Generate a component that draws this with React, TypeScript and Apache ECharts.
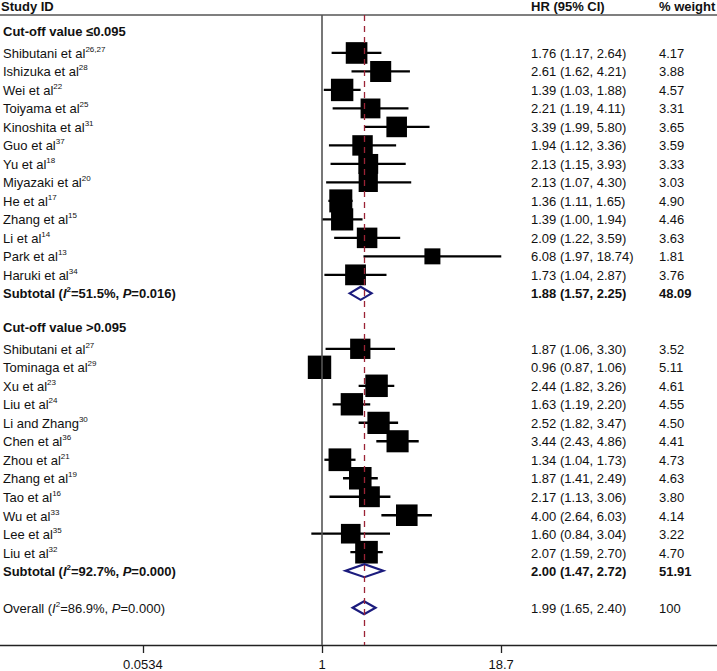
import React, { useEffect, useRef } from "react";
import * as echarts from "echarts";

// ---------- data ----------
const groupTitles = ["Cut-off value \u22640.095", "Cut-off value >0.095"];

const names1 = ["Shibutani et al", "Ishizuka et al", "Wei et al", "Toiyama et al", "Kinoshita et al", "Guo et al", "Yu et al", "Miyazaki et al", "He et al", "Zhang et al", "Li et al", "Park et al", "Haruki et al"];
const refs1 = ["26,27", "28", "22", "25", "31", "37", "18", "20", "17", "15", "14", "13", "34"];
const hr1 = [1.76, 2.61, 1.39, 2.21, 3.39, 1.94, 2.13, 2.13, 1.36, 1.39, 2.09, 6.08, 1.73];
const lo1 = [1.17, 1.62, 1.03, 1.19, 1.99, 1.12, 1.15, 1.07, 1.11, 1.0, 1.22, 1.97, 1.04];
const hi1 = [2.64, 4.21, 1.88, 4.11, 5.8, 3.36, 3.93, 4.3, 1.65, 1.94, 3.59, 18.74, 2.87];
const w1 = [4.17, 3.88, 4.57, 3.31, 3.65, 3.59, 3.33, 3.03, 4.9, 4.46, 3.63, 1.81, 3.76];

const names2 = ["Shibutani et al", "Tominaga et al", "Xu et al", "Liu et al", "Li and Zhang", "Chen et al", "Zhou et al", "Zhang et al", "Tao et al", "Wu et al", "Lee et al", "Liu et al"];
const refs2 = ["27", "29", "23", "24", "30", "36", "21", "19", "16", "33", "35", "32"];
const hr2 = [1.87, 0.96, 2.44, 1.63, 2.52, 3.44, 1.34, 1.87, 2.17, 4.0, 1.6, 2.07];
const lo2 = [1.06, 0.87, 1.82, 1.19, 1.82, 2.43, 1.04, 1.41, 1.13, 2.64, 0.84, 1.59];
const hi2 = [3.3, 1.06, 3.26, 2.2, 3.47, 4.86, 1.73, 2.49, 3.06, 6.03, 3.04, 2.7];
const w2 = [3.52, 5.11, 4.61, 4.55, 4.5, 4.41, 4.73, 4.63, 3.8, 4.14, 3.22, 4.7];

const subHR = [1.88, 2.0];
const subLo = [1.57, 1.47];
const subHi = [2.25, 2.72];
const subW = [48.09, 51.91];
const subI2 = ["51.5%", "92.7%"];
const subP = ["0.016", "0.000"];

const overallHR = 1.99;
const overallLo = 1.65;
const overallHi = 2.4;
const overallW = 100;
const overallI2 = "86.9%";
const overallP = "0.000";

const TICKS = [0.0534, 1, 18.7];
const TICK_LABELS = ["0.0534", "1", "18.7"];

// ---------- layout ----------
const W = 717;
const H = 671;
const ROW0_Y = 34.5;
const ROW_H = 18.52;
const GRID_TOP = 15;
const AXIS_Y = 646;
const PX_PER_LN = 61.17;
const ONE_X = 322;
const X_LN_MIN = -ONE_X / PX_PER_LN;
const X_LN_MAX = (W - ONE_X) / PX_PER_LN;
const FF = "'Liberation Sans', Arial, Helvetica, sans-serif";
const TXT = "#111";

type Row = {
  kind: "head" | "study" | "sub" | "blank" | "overall";
  text?: string;
  ref?: string;
  hr?: number;
  lo?: number;
  hi?: number;
  w?: number;
  i2?: string;
  p?: string;
};

function buildRows(): Row[] {
  const rows: Row[] = [];
  const groups = [
    { names: names1, refs: refs1, hr: hr1, lo: lo1, hi: hi1, w: w1 },
    { names: names2, refs: refs2, hr: hr2, lo: lo2, hi: hi2, w: w2 },
  ];
  groups.forEach((g, gi) => {
    rows.push({ kind: "head", text: groupTitles[gi] });
    g.names.forEach((n, i) => {
      rows.push({ kind: "study", text: n, ref: g.refs[i], hr: g.hr[i], lo: g.lo[i], hi: g.hi[i], w: g.w[i] });
    });
    rows.push({ kind: "sub", hr: subHR[gi], lo: subLo[gi], hi: subHi[gi], w: subW[gi], i2: subI2[gi], p: subP[gi] });
    rows.push({ kind: "blank" });
  });
  rows.push({ kind: "overall", hr: overallHR, lo: overallLo, hi: overallHi, w: overallW, i2: overallI2, p: overallP });
  return rows;
}

const fmtW = (w: number) => (Number.isInteger(w) ? String(w) : w.toFixed(2));
const fmtCI = (r: Row) => `${r.hr!.toFixed(2)} (${r.lo!.toFixed(2)}, ${r.hi!.toFixed(2)})`;

const rich = {
  n: { fontSize: 13, fontFamily: FF, color: TXT, lineHeight: 16 },
  b: { fontSize: 13, fontFamily: FF, color: TXT, fontWeight: "bold", lineHeight: 16 },
  i: { fontSize: 13, fontFamily: FF, color: TXT, fontStyle: "italic", lineHeight: 16 },
  bi: { fontSize: 13, fontFamily: FF, color: TXT, fontWeight: "bold", fontStyle: "italic", lineHeight: 16 },
  s: { fontSize: 8, fontFamily: FF, color: TXT, lineHeight: 11, verticalAlign: "top" },
  bs: { fontSize: 8, fontFamily: FF, color: TXT, fontWeight: "bold", lineHeight: 11, verticalAlign: "top" },
  h: { fontSize: 13, fontFamily: FF, color: TXT, fontWeight: "bold", lineHeight: 16, padding: [0, 0, 6, 0] },
};

export default function App() {
  const ref = useRef<HTMLDivElement>(null);

  useEffect(() => {
    if (!ref.current) return;
    const chart = echarts.init(ref.current, undefined, { renderer: "svg" });
    const rows = buildRows();
    const N = rows.length;
    const cats = rows.map((_, i) => String(i));

    const yMin = (GRID_TOP - ROW0_Y) / ROW_H;
    const yMax = (AXIS_Y - ROW0_Y) / ROW_H;
    const textTop = ROW0_Y - ROW_H / 2;
    const textBottom = H - (textTop + N * ROW_H);

    const leftFmt = (_v: string, idx: number) => {
      const r = rows[idx];
      if (!r) return "";
      switch (r.kind) {
        case "head":
          return `{h|${r.text}}`;
        case "study":
          return `{n|${r.text}}{s|${r.ref}}`;
        case "sub":
          return `{b|Subtotal (}{bi|I}{bs|2}{b|=${r.i2}, }{bi|P}{b|=${r.p})}`;
        case "overall":
          return `{n|Overall (}{i|I}{s|2}{n|=${r.i2}, }{i|P}{n|=${r.p})}`;
        default:
          return "";
      }
    };
    const hrFmt = (_v: string, idx: number) => {
      const r = rows[idx];
      if (!r || r.hr === undefined) return "";
      return r.kind === "sub" ? `{b|${fmtCI(r)}}` : `{n|${fmtCI(r)}}`;
    };
    const wFmt = (_v: string, idx: number) => {
      const r = rows[idx];
      if (!r || r.w === undefined) return "";
      return r.kind === "sub" ? `{b|${fmtW(r.w)}}` : `{n|${fmtW(r.w)}}`;
    };

    const studyData: number[][] = [];
    const diamondData: number[][] = [];
    rows.forEach((r, i) => {
      if (r.kind === "study") studyData.push([Math.log(r.hr!), i, Math.log(r.lo!), Math.log(r.hi!), r.w!]);
      if (r.kind === "sub" || r.kind === "overall") diamondData.push([Math.log(r.hr!), i, Math.log(r.lo!), Math.log(r.hi!)]);
    });

    const textGrid = (left: number) => ({ left, top: textTop, bottom: textBottom, width: 40 });
    const textY = (gridIndex: number, formatter: any) => ({
      type: "category",
      gridIndex,
      data: cats,
      inverse: true,
      axisLine: { show: false },
      axisTick: { show: false },
      splitLine: { show: false },
      axisLabel: { inside: true, margin: 0, interval: 0, formatter, rich },
    });
    const hiddenX = (gridIndex: number) => ({ type: "value", gridIndex, show: false });

    const tickLn = TICKS.map((t) => Math.log(t));
    const headStyle = { fontSize: 13, fontWeight: "bold", fontFamily: FF, fill: TXT, align: "left", verticalAlign: "top" };

    chart.setOption({
      animation: false,
      backgroundColor: "#fff",
      grid: [
        { left: 0, right: 0, top: GRID_TOP, bottom: H - AXIS_Y },
        textGrid(1),
        textGrid(531),
        textGrid(659),
      ],
      xAxis: [
        {
          type: "value",
          gridIndex: 0,
          min: X_LN_MIN,
          max: X_LN_MAX,
          position: "bottom",
          splitLine: { show: false },
          axisLine: { show: true, onZero: false, lineStyle: { color: "#222", width: 1.3 } },
          axisTick: { show: true, customValues: tickLn, length: 8, lineStyle: { color: "#222", width: 1.3 } },
          axisLabel: {
            customValues: tickLn,
            margin: 13,
            fontSize: 13,
            fontFamily: FF,
            color: TXT,
            formatter: (v: number) => {
              const k = tickLn.findIndex((t) => Math.abs(t - v) < 1e-6);
              return k >= 0 ? TICK_LABELS[k] : "";
            },
          },
        },
        {
          type: "value",
          gridIndex: 0,
          min: X_LN_MIN,
          max: X_LN_MAX,
          position: "top",
          splitLine: { show: false },
          axisLine: { show: true, onZero: false, lineStyle: { color: "#555", width: 1.5 } },
          axisTick: { show: false },
          axisLabel: { show: false },
        },
        hiddenX(1),
        hiddenX(2),
        hiddenX(3),
      ],
      yAxis: [
        { type: "value", gridIndex: 0, min: yMin, max: yMax, inverse: true, show: false },
        textY(1, leftFmt),
        textY(2, hrFmt),
        textY(3, wFmt),
      ],
      graphic: [
        { type: "text", x: 1, y: 0, style: { text: "Study ID", ...headStyle } },
        { type: "text", x: 531, y: 0, style: { text: "HR (95% CI)", ...headStyle } },
        { type: "text", x: 659, y: 0, style: { text: "% weight", ...headStyle } },
      ],
      series: [
        {
          type: "line",
          xAxisIndex: 0,
          yAxisIndex: 0,
          data: [],
          z: 1,
          silent: true,
          markLine: {
            silent: true,
            symbol: ["none", "none"],
            label: { show: false },
            emphasis: { disabled: true },
            data: [
              { xAxis: 0, lineStyle: { color: "#555", width: 1.6, type: "solid" } },
              { xAxis: Math.log(overallHR), lineStyle: { color: "#9b2335", width: 1.3, type: [6, 5] } },
            ],
          },
        },
        {
          type: "custom",
          xAxisIndex: 0,
          yAxisIndex: 0,
          z: 3,
          silent: true,
          data: studyData,
          encode: { x: [0, 2, 3], y: 1 },
          renderItem: (_p: any, api: any) => {
            const y = api.value(1);
            const c = api.coord([api.value(0), y]);
            const l = api.coord([api.value(2), y]);
            const h = api.coord([api.value(3), y]);
            const s = 5.1 + 8.1 * Math.sqrt(api.value(4));
            return {
              type: "group",
              children: [
                { type: "line", shape: { x1: l[0], y1: c[1], x2: h[0], y2: c[1] }, style: { stroke: "#000", lineWidth: 2.3 } },
                { type: "rect", shape: { x: c[0] - s / 2, y: c[1] - s / 2, width: s, height: s }, style: { fill: "#000" } },
              ],
            };
          },
        },
        {
          type: "custom",
          xAxisIndex: 0,
          yAxisIndex: 0,
          z: 4,
          silent: true,
          data: diamondData,
          encode: { x: [0, 2, 3], y: 1 },
          renderItem: (_p: any, api: any) => {
            const y = api.value(1);
            const c = api.coord([api.value(0), y]);
            const l = api.coord([api.value(2), y]);
            const h = api.coord([api.value(3), y]);
            const hh = 6.5;
            return {
              type: "polygon",
              shape: { points: [[l[0], c[1]], [c[0], c[1] - hh], [h[0], c[1]], [c[0], c[1] + hh]] },
              style: { fill: "#fff", stroke: "#1b1b7d", lineWidth: 2.2 },
            };
          },
        },
      ],
    });

    return () => chart.dispose();
  }, []);

  return <div ref={ref} style={{ position: "fixed", left: 0, top: 0, width: W, height: H }} />;
}
